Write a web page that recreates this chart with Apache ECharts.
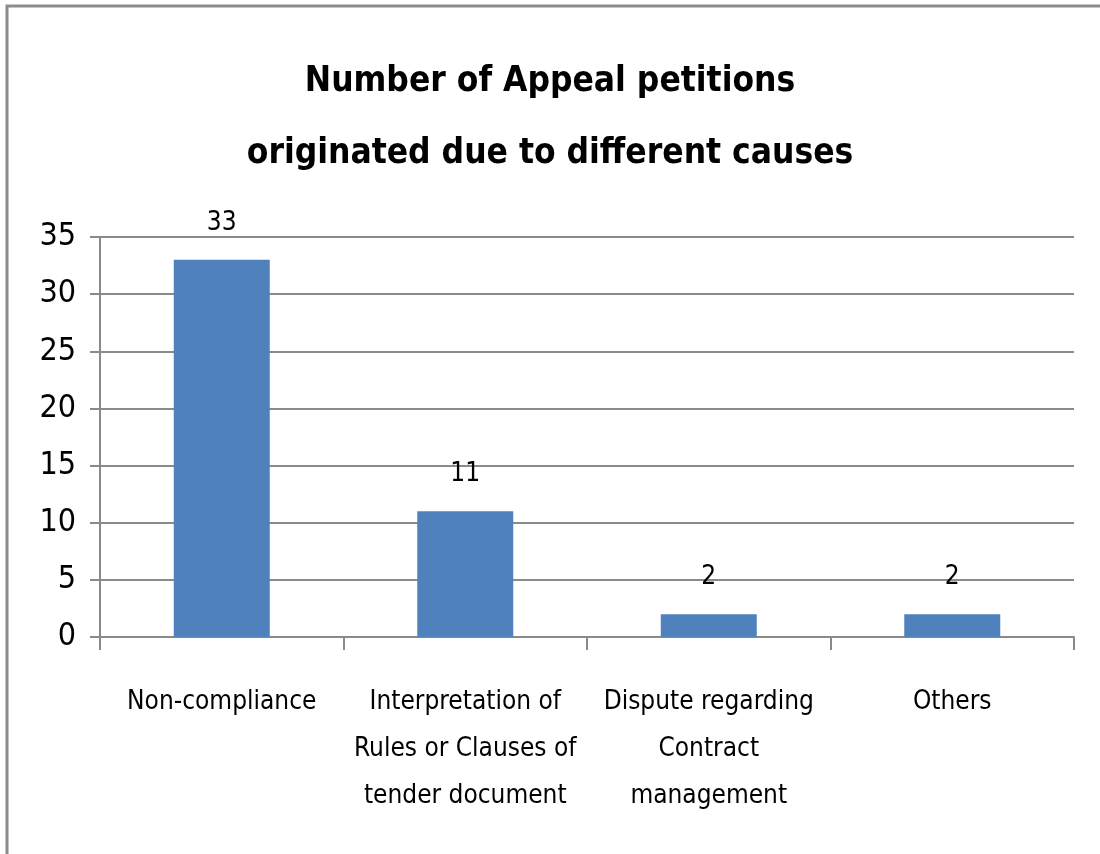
<!DOCTYPE html>
<html>
<head>
<meta charset="utf-8">
<script src="https://cdn.jsdelivr.net/npm/echarts@6/dist/echarts.min.js"></script>
<style>
  html, body { margin: 0; padding: 0; background: #fff; }
  #chart { width: 1100px; height: 854px; }
</style>
</head>
<body>
<div id="chart"></div>
<script>
// 数据
var categories = [
    'Non-compliance',
    'Interpretation of\nRules or Clauses of\ntender document',
    'Dispute regarding\nContract\nmanagement',
    'Others'
];
var petitions = [33, 11, 2, 2];
var yTicks = [0, 5, 10, 15, 20, 25, 30, 35];

var font = '"Liberation Sans Narrow", "DejaVu Sans Condensed", sans-serif';

var myChart = echarts.init(document.getElementById('chart'));

var option = {
    animation: false,
    title: {
        text: 'Number of Appeal petitions\noriginated due to different causes',
        left: 'center',
        top: 41,
        textStyle: {
            fontFamily: font,
            fontSize: 35,
            fontWeight: 'bold',
            color: '#000',
            lineHeight: 72
        }
    },
    graphic: [{
        type: 'rect',
        shape: { x: 7, y: 6, width: 1200, height: 1000 },
        style: { fill: 'none', stroke: '#8c8c8c', lineWidth: 3 },
        silent: true
    }],
    grid: {
        left: 100,
        right: 26,
        top: 237,
        bottom: 217
    },
    xAxis: {
        type: 'category',
        data: categories,
        axisLine: { lineStyle: { color: '#8a8a8a', width: 2 } },
        axisTick: { show: true, length: 13, lineStyle: { color: '#8a8a8a', width: 2 } },
        axisLabel: {
            interval: 0,
            margin: 42,
            fontFamily: font,
            fontSize: 26,
            lineHeight: 47,
            color: '#000'
        }
    },
    yAxis: {
        type: 'value',
        min: yTicks[0],
        max: yTicks[yTicks.length - 1],
        interval: 5,
        axisLine: { show: true, lineStyle: { color: '#8a8a8a', width: 2 } },
        axisTick: { show: true, length: 10, lineStyle: { color: '#8a8a8a', width: 2 } },
        splitLine: { lineStyle: { color: '#8a8a8a', width: 2 } },
        axisLabel: {
            margin: 24,
            fontFamily: font,
            fontSize: 32,
            color: '#000'
        }
    },
    series: [{
        name: 'Appeal petitions',
        type: 'bar',
        data: petitions,
        barWidth: 96,
        itemStyle: { color: '#4F81BD' },
        label: {
            show: true,
            position: 'top',
            distance: 24,
            fontFamily: font,
            fontSize: 26,
            color: '#000'
        }
    }]
};

myChart.setOption(option);
</script>
</body>
</html>
